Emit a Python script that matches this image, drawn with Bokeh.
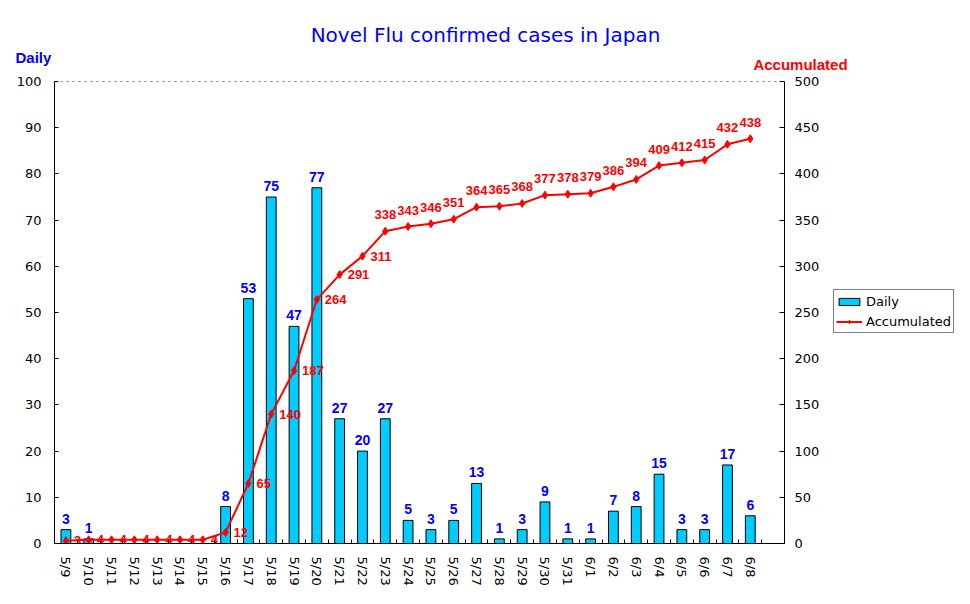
from bokeh.plotting import figure
from bokeh.layouts import column, row
from bokeh.models import (Range1d, LinearAxis, FixedTicker, Legend, LegendItem,
                          ColumnDataSource)
from bokeh.embed import file_html
from bokeh.resources import INLINE
from bokeh.core.properties import value

# ---- data ----
dates = ["5/9", "5/10", "5/11", "5/12", "5/13", "5/14", "5/15", "5/16", "5/17",
         "5/18", "5/19", "5/20", "5/21", "5/22", "5/23", "5/24", "5/25", "5/26",
         "5/27", "5/28", "5/29", "5/30", "5/31", "6/1", "6/2", "6/3", "6/4",
         "6/5", "6/6", "6/7", "6/8"]
daily = [3, 1, 0, 0, 0, 0, 0, 8, 53, 75, 47, 77, 27, 20, 27, 5, 3, 5, 13, 1, 3,
         9, 1, 1, 7, 8, 15, 3, 3, 17, 6]
accumulated = [3, 4, 4, 4, 4, 4, 4, 12, 65, 140, 187, 264, 291, 311, 338, 343,
               346, 351, 364, 365, 368, 377, 378, 379, 386, 394, 409, 412, 415,
               432, 438]
daily_ticks = list(range(0, 101, 10))
acc_ticks = list(range(0, 501, 50))
title_text = "Novel Flu confirmed cases in Japan"
left_name = "Daily"
right_name = "Accumulated"

n = len(dates)
n_slots = n + 1  # one empty slot at the end of the category axis
xs = [i + 0.5 for i in range(n)]

FONT = "DejaVu Sans"
BFONT = "Liberation Sans"
BAR_COLOR = "#00CCFF"
LINE_COLOR = "#FF0000"


def bare(fig):
    fig.xgrid.visible = False
    fig.ygrid.visible = False
    fig.outline_line_color = None
    fig.background_fill_color = "white"
    fig.border_fill_color = "white"


# ---- header with title and axis names ----
HW, HH = 962, 72
head = figure(width=HW, height=HH, output_backend="svg", toolbar_location=None,
              x_range=Range1d(0, HW), y_range=Range1d(0, HH),
              x_axis_location=None, y_axis_location=None,
              min_border=0)
bare(head)
head.text(x=[485], y=[HH - 34], text=[title_text], text_align="center",
          text_baseline="middle", text_color="#0000FF", text_font=value(FONT),
          text_font_size="20px")
head.text(x=[15], y=[HH - 57], text=[left_name], text_align="left",
          text_baseline="middle", text_color="#0000FF", text_font=value(BFONT),
          text_font_style="bold", text_font_size="15px")
head.text(x=[800], y=[HH - 64], text=[right_name], text_align="center",
          text_baseline="middle", text_color=LINE_COLOR, text_font=value(BFONT),
          text_font_style="bold", text_font_size="15px")

# ---- main chart ----
MAIN_W = 54 + 730 + 44
p = figure(frame_width=730, frame_height=462, output_backend="svg",
           toolbar_location=None,
           x_range=Range1d(0, n_slots), y_range=Range1d(0, 100),
           min_border_left=54, min_border_right=44, min_border_top=9,
           min_border_bottom=58)
p.extra_y_ranges = {"acc": Range1d(0, 500)}
p.xgrid.visible = False
p.ygrid.visible = False
p.outline_line_color = "#808080"
p.outline_line_dash = "dotted"
p.outline_line_width = 1
p.background_fill_color = "white"
p.border_fill_color = "white"

xa = p.xaxis[0]
xa.ticker = FixedTicker(ticks=xs, minor_ticks=list(range(0, n_slots + 1)))
xa.major_label_overrides = {x: d for x, d in zip(xs, dates)}
xa.major_label_orientation = "vertical"
xa.major_tick_in = 0
xa.major_tick_out = 0
xa.minor_tick_in = 4
xa.minor_tick_out = 0
xa.minor_tick_line_color = "black"
xa.axis_line_color = "black"
xa.major_label_text_font = FONT
xa.major_label_text_font_size = "13px"
xa.major_label_text_color = "black"
xa.major_label_standoff = 13

ya = p.yaxis[0]
ya.ticker = FixedTicker(ticks=daily_ticks)
ya.major_tick_in = 4
ya.major_tick_out = 0
ya.minor_tick_line_color = None
ya.axis_line_color = "black"
ya.major_label_text_font = FONT
ya.major_label_text_font_size = "13px"
ya.major_label_text_color = "black"
ya.major_label_standoff = 13

ra = LinearAxis(y_range_name="acc", ticker=FixedTicker(ticks=acc_ticks))
ra.major_tick_in = 5
ra.major_tick_out = 0
ra.minor_tick_line_color = None
ra.axis_line_color = "black"
ra.major_label_text_font = FONT
ra.major_label_text_font_size = "13px"
ra.major_label_text_color = "black"
ra.major_label_standoff = 10
p.add_layout(ra, "right")

src = ColumnDataSource(dict(
    x=xs, daily=daily, acc=accumulated,
    dlab=[str(v) if v != 0 else "" for v in daily],
))
p.vbar(x="x", top="daily", width=0.43, source=src,
       fill_color=BAR_COLOR, line_color="black", line_width=1)
p.line(x="x", y="acc", source=src, y_range_name="acc",
       line_color=LINE_COLOR, line_width=2)
p.scatter(x="x", y="acc", source=src, y_range_name="acc", marker="diamond",
          size=8, fill_color=LINE_COLOR, line_color=LINE_COLOR)

p.text(x="x", y="daily", text="dlab", source=src, text_align="center",
       text_baseline="bottom", y_offset=-6, text_color="#0000FF",
       text_font=value(BFONT), text_font_style="bold", text_font_size="14px")

split = 14
src_r = ColumnDataSource(dict(x=xs[:split], acc=accumulated[:split],
                              alab=[str(v) for v in accumulated[:split]]))
src_a = ColumnDataSource(dict(x=xs[split:], acc=accumulated[split:],
                              alab=[str(v) for v in accumulated[split:]]))
p.text(x="x", y="acc", text="alab", source=src_r, y_range_name="acc",
       text_align="left", text_baseline="middle", x_offset=8,
       text_color=LINE_COLOR, text_font=value(BFONT), text_font_style="bold",
       text_font_size="13px")
p.text(x="x", y="acc", text="alab", source=src_a, y_range_name="acc",
       text_align="center", text_baseline="bottom", y_offset=-12,
       text_color=LINE_COLOR, text_font=value(BFONT), text_font_style="bold",
       text_font_size="13px")

# ---- legend panel (its frame is aligned with the chart frame) ----
LW = HW - MAIN_W
leg = figure(width=LW, height=9 + 462 + 58, output_backend="svg",
             toolbar_location=None,
             x_range=Range1d(-3, -2), y_range=Range1d(-3, -2),
             x_axis_location=None, y_axis_location=None, min_border=0)
bare(leg)
lb = leg.vbar(x="x", top="daily", width=0.43, source=src,
              fill_color=BAR_COLOR, line_color="black", line_width=1)
ll = leg.line(x="x", y="acc", source=src, line_color=LINE_COLOR, line_width=2)
lm = leg.scatter(x="x", y="acc", source=src, marker="diamond", size=8,
                 fill_color=LINE_COLOR, line_color=LINE_COLOR)
legend = Legend(items=[LegendItem(label=left_name, renderers=[lb]),
                       LegendItem(label=right_name, renderers=[ll, lm])],
                location=(833 - MAIN_W, 543 - 333), orientation="vertical")
legend.border_line_color = "black"
legend.border_line_width = 1
legend.background_fill_alpha = 1
legend.padding = 2
legend.spacing = 2
legend.margin = 0
legend.glyph_width = 26
legend.glyph_height = 9
legend.label_height = 18
legend.label_standoff = 4
legend.label_text_font = FONT
legend.label_text_font_size = "13px"
legend.label_text_color = "black"
leg.add_layout(legend, "center")

layout = column(head, row(p, leg, spacing=0), spacing=0)
open("out.html", "w").write(file_html(layout, INLINE))
